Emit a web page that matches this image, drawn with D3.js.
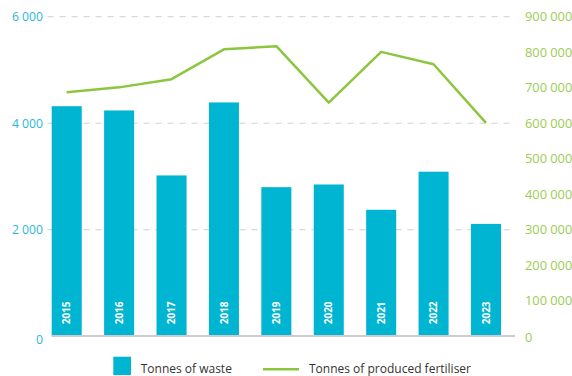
<!DOCTYPE html>
<html>
<head>
	<script src="https://cdn.jsdelivr.net/npm/d3@7/dist/d3.min.js"></script>
	<style>
		html, body {
			padding: 0;
			margin: 0;
			background: #ffffff;
		}
		svg text {
			font-family: "Open Sans", sans-serif;
		}
	</style>
</head>
<body>
	<script>
		var years = ["2015", "2016", "2017", "2018", "2019", "2020", "2021", "2022", "2023"];
		var waste = [4320, 4240, 3020, 4390, 2800, 2850, 2375, 3090, 2110];
		var fertiliser = [687000, 701000, 724000, 808000, 817000, 658000, 801000, 766000, 601000];
		var leftTicks = [0, 2000, 4000, 6000];
		var rightTicks = [0, 100000, 200000, 300000, 400000, 500000, 600000, 700000, 800000, 900000];

		var width = 572, height = 376;
		var cyan = '#00b5d1', green = '#8cc63f';

		var svg = d3.select('body').append('svg')
			.attr('width', width)
			.attr('height', height);

		var x = d3.scaleBand()
			.domain(years)
			.range([51.7, 501])
			.paddingInner(0.427)
			.paddingOuter(0);

		var yLeft = d3.scaleLinear().domain([0, 6000]).range([336.3, 16.7]);
		var yRight = d3.scaleLinear().domain([0, 900000]).range([336.3, 16.7]);

		var fmt = function (d) { return d3.format(',')(d).replace(/,/g, ' '); };

		// dashed grid lines at the left ticks
		svg.append('g').selectAll('line')
			.data(leftTicks.filter(function (d) { return d > 0; }))
			.enter().append('line')
			.attr('x1', 47.5).attr('x2', 513)
			.attr('y1', function (d) { return yLeft(d); })
			.attr('y2', function (d) { return yLeft(d); })
			.style('stroke', '#d0d0d0')
			.style('stroke-width', 1)
			.style('stroke-dasharray', '6,6');

		// left axis
		var leftAxis = svg.append('g')
			.attr('transform', 'translate(43,0)')
			.call(d3.axisLeft(yLeft).tickValues(leftTicks).tickFormat(fmt).tickSize(0).tickPadding(0));
		leftAxis.select('.domain').remove();
		leftAxis.selectAll('text')
			.style('fill', '#2bb8d8')
			.style('font-size', '12.2px');
		leftAxis.selectAll('.tick')
			.filter(function (d) { return d === 0; })
			.select('text').attr('y', 3);

		// right axis
		var rightAxis = svg.append('g')
			.attr('transform', 'translate(525,0)')
			.call(d3.axisRight(yRight).tickValues(rightTicks).tickFormat(fmt).tickSize(0).tickPadding(0));
		rightAxis.select('.domain').remove();
		rightAxis.selectAll('text')
			.style('fill', '#9ccc52')
			.style('font-size', '12.8px');
		rightAxis.selectAll('.tick')
			.filter(function (d) { return d === 0; })
			.select('text').attr('y', 1.5);

		// bars
		svg.append('g').selectAll('rect')
			.data(waste)
			.enter().append('rect')
			.attr('x', function (d, i) { return x(years[i]); })
			.attr('y', function (d) { return yLeft(d); })
			.attr('width', x.bandwidth())
			.attr('height', function (d) { return yLeft(0) - yLeft(d); })
			.style('fill', cyan);

		// year labels inside bars
		svg.append('g').selectAll('text')
			.data(years)
			.enter().append('text')
			.attr('transform', function (d) {
				return 'translate(' + (x(d) + x.bandwidth() / 2 + 3.6) + ',' + 324.3 + ') rotate(-90)';
			})
			.style('fill', '#ffffff')
			.style('font-size', '10px')
			.style('font-weight', 'bold')
			.text(function (d) { return d; });

		// baseline
		svg.append('line')
			.attr('x1', 51.7).attr('x2', 515)
			.attr('y1', 336).attr('y2', 336)
			.style('stroke', '#cccccc')
			.style('stroke-width', 2);

		// fertiliser line
		var line = d3.line()
			.x(function (d, i) { return x(years[i]) + x.bandwidth() / 2; })
			.y(function (d) { return yRight(d); });

		svg.append('path')
			.datum(fertiliser)
			.attr('d', line)
			.style('fill', 'none')
			.style('stroke', green)
			.style('stroke-width', 2.5)
			.style('stroke-linejoin', 'round');

		// legend
		var legend = svg.append('g');
		legend.append('rect')
			.attr('x', 113.3).attr('y', 356.7)
			.attr('width', 17.7).attr('height', 18.3)
			.style('fill', cyan);
		legend.append('text')
			.attr('x', 140.7).attr('y', 373)
			.style('fill', '#333333')
			.style('font-size', '12px')
			.text('Tonnes of waste');
		legend.append('line')
			.attr('x1', 263).attr('x2', 299)
			.attr('y1', 369.3).attr('y2', 369.3)
			.style('stroke', green)
			.style('stroke-width', 2.5);
		legend.append('text')
			.attr('x', 309).attr('y', 373)
			.style('fill', '#333333')
			.style('font-size', '12px')
			.text('Tonnes of produced fertiliser');
	</script>
</body>
</html>
